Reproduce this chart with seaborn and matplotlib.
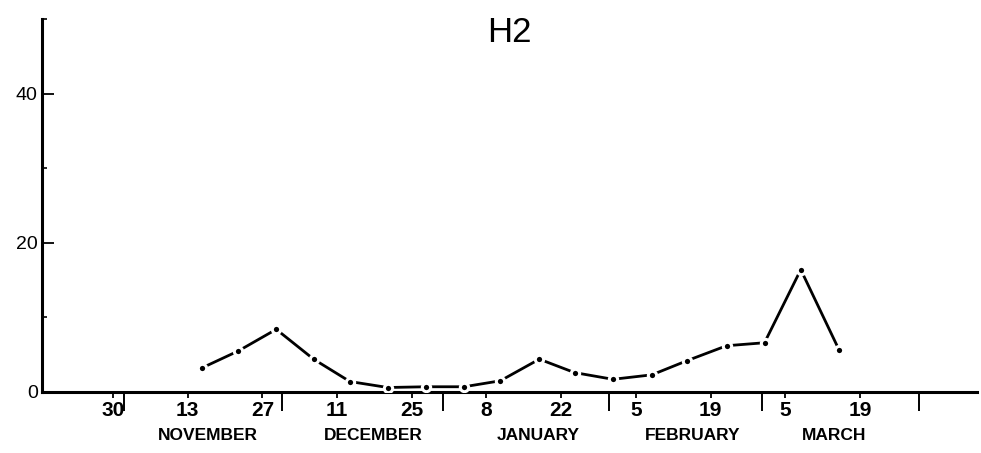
import matplotlib
matplotlib.use("Agg")
import matplotlib.pyplot as plt
import matplotlib.transforms as mtransforms
import pandas as pd
import seaborn as sns

# Sampling days (days counted from 1 October) and the H2 counts
sample_day = [45.6, 52.5, 59.6, 66.6, 73.4, 80.5, 87.7, 94.8, 101.6,
              108.9, 115.5, 122.7, 130.0, 136.6, 144.0, 151.1, 157.9, 165.1]
h2_count = [3.2, 5.5, 8.4, 4.4, 1.4, 0.6, 0.7, 0.7, 1.5,
            4.4, 2.6, 1.7, 2.3, 4.2, 6.2, 6.6, 16.4, 5.6]

# Fortnightly date ticks
date_tick_day = [29, 43, 57, 71, 85, 99, 113, 127, 141, 155, 169]
date_tick_label = ["30", "13", "27", "11", "25", "8", "22", "5", "19", "5", "19"]

# Month boundaries and month names
month_edge_day = [31, 60.7, 90.8, 122, 150.6, 180]
month_name = ["NOVEMBER", "DECEMBER", "JANUARY", "FEBRUARY", "MARCH"]

y_major = [0, 20, 40]
y_minor = [10, 30, 50]

df = pd.DataFrame({"day": sample_day, "count": h2_count})

sns.set_style("ticks")
plt.rcParams["font.family"] = ["Liberation Sans", "DejaVu Sans"]
plt.rcParams["text.color"] = "black"
plt.rcParams["xtick.color"] = "black"
plt.rcParams["ytick.color"] = "black"
plt.rcParams["xtick.labelcolor"] = "black"
plt.rcParams["ytick.labelcolor"] = "black"

fig = plt.figure(figsize=(9.81, 4.53), dpi=100)
ax = fig.add_axes([0.0428, 0.1347, 0.953, 0.8234])

sns.lineplot(data=df, x="day", y="count", ax=ax, color="black",
             linewidth=2.0, marker="o", markersize=6.0,
             markerfacecolor="black", markeredgecolor="white",
             markeredgewidth=2.2, zorder=3)

ax.set_xlim(15.7, 190.9)
ax.set_ylim(0, 50)
ax.set_xlabel("")
ax.set_ylabel("")

for side in ("top", "right"):
    ax.spines[side].set_visible(False)
for side in ("left", "bottom"):
    ax.spines[side].set_linewidth(2.2)
    ax.spines[side].set_color("black")

# y axis: labelled ticks pointing inward, short minor ticks between
ax.set_yticks(y_major)
ax.set_yticklabels([str(v) for v in y_major], fontsize=14)
ax.set_yticks(y_minor, minor=True)
ax.tick_params(axis="y", which="major", direction="in", length=8.6,
               width=1.3, pad=3)
ax.tick_params(axis="y", which="minor", direction="in", length=3.6,
               width=1.2)

# x axis: date ticks below the axis, longer marks at month boundaries
ax.set_xticks(date_tick_day)
ax.set_xticklabels(date_tick_label, fontsize=15, fontweight="bold")
ax.set_xticks(month_edge_day, minor=True)
ax.tick_params(axis="x", which="major", direction="out", length=4.3,
               width=1.3, pad=2)
ax.tick_params(axis="x", which="minor", direction="out", length=14,
               width=1.4)

# month names sit under their fortnight labels
month_label_x = [46.8, 77.7, 108.6, 137.7, 164.1]
trans = mtransforms.blended_transform_factory(ax.transData, ax.transAxes)
for x, name in zip(month_label_x, month_name):
    ax.text(x, -0.117, name, transform=trans, ha="center", va="center",
            fontsize=12.5, fontweight="bold")

ax.text(0.5, 0.938, "H2", transform=ax.transAxes, ha="center",
        va="baseline", fontsize=25)

fig.savefig("out.png", dpi=100, facecolor="white")
